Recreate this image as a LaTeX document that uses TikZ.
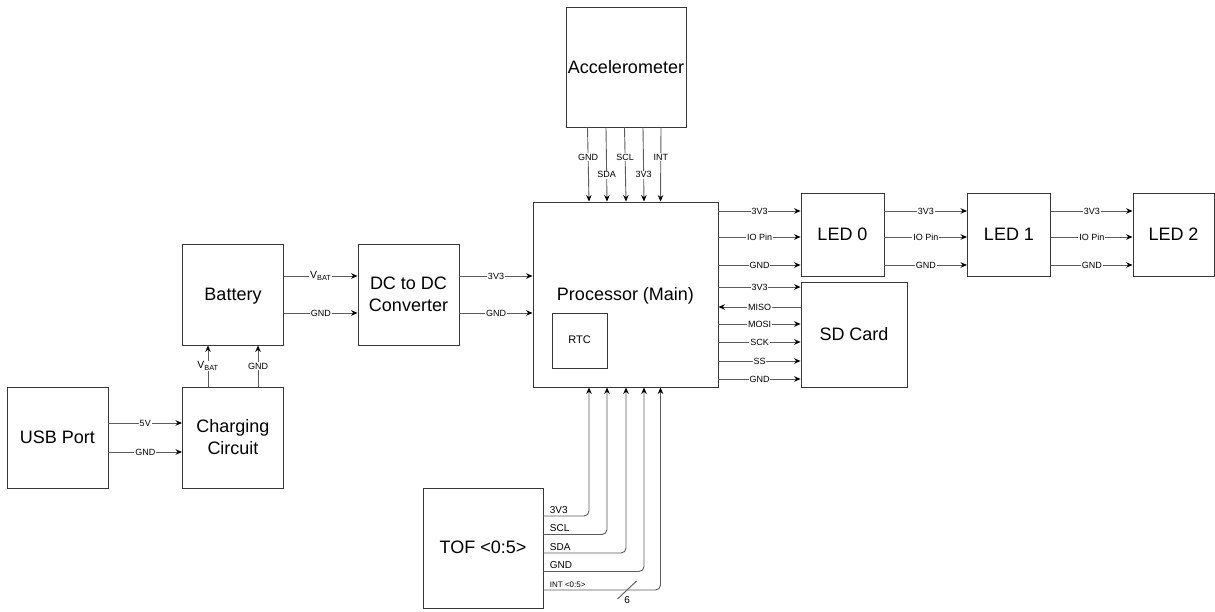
\documentclass[tikz,border=0pt]{standalone}
\usepackage{fontspec}
\setmainfont{Liberation Sans}
\setsansfont{Liberation Sans}
\usetikzlibrary{arrows.meta,calc,positioning}
\definecolor{ink}{HTML}{000000}
\definecolor{wire}{HTML}{5C5C5C}
\definecolor{edge}{HTML}{383838}
\definecolor{paper}{HTML}{FFFFFF}
\tikzset{
  font=\sffamily,
  line/.style={
    draw=wire,
    line width=0.9pt
  },
  wire/.style={
    line,
    -{Stealth[length=6.5pt,width=5.5pt,color=ink]}
  },
  block/.style={
    rectangle,
    draw=edge,
    line width=0.9pt,
    fill=paper,
    text=ink,
    align=center,
    inner sep=2pt,
    text depth=1pt,
    font=\sffamily\fontsize{18}{22}\selectfont
  },
  smallblock/.style={
    block,
    font=\sffamily\fontsize{11}{13}\selectfont
  },
  pinlabel/.style={
    font=\sffamily\fontsize{9}{10}\selectfont,
    fill=paper,
    text=ink,
    inner sep=0.8pt
  },
  powerlabel/.style={
    pinlabel,
    font=\sffamily\fontsize{10.5}{12}\selectfont
  },
  sidelabel/.style={
    font=\sffamily\fontsize{10}{12}\selectfont,
    text=ink,
    anchor=south west,
    inner sep=1pt,
    xshift=5pt,
    yshift=1pt
  }
}

\begin{document}
\begin{tikzpicture}[x=1pt, y=-1pt]
  \useasboundingbox (0,0) rectangle (1215,611);

  % blocks
  \node[block, minimum width=120pt, minimum height=120pt] (accel) at (626,67) {Accelerometer};
  \node[block, minimum width=185pt, minimum height=185pt] (proc) at (625.5,294.5) {Processor (Main)};
  \node[smallblock, minimum width=55pt, minimum height=55pt] (rtc) at (579.5,340.5) {RTC};
  \node[block, minimum width=101pt, minimum height=101pt] (bat) at (233,294.5) {Battery};
  \node[block, minimum width=101pt, minimum height=101pt] (dcdc) at (408.5,294.5) {DC to DC\\Converter};
  \node[block, minimum width=101pt, minimum height=101pt] (usb) at (57.5,437.5) {USB Port};
  \node[block, minimum width=101pt, minimum height=101pt] (charge) at (233,437.5) {Charging\\Circuit};
  \node[block, minimum width=83pt, minimum height=83pt] (led0) at (842.5,234.5) {LED 0};
  \node[block, minimum width=83pt, minimum height=83pt] (led1) at (1009,234.5) {LED 1};
  \node[block, minimum width=81pt, minimum height=83pt] (led2) at (1173.5,234.5) {LED 2};
  \node[block, minimum width=106pt, minimum height=105pt] (sd) at (854,334.5) {SD Card};
  \node[block, minimum width=120pt, minimum height=120pt] (tof) at (483,548) {TOF <0:5>};

  % power path
  \draw[wire] ($(usb.east)+(0,-14.5)$) -- node[pinlabel]{5V} ($(charge.west)+(0,-14.5)$);
  \draw[wire] ($(usb.east)+(0,14.5)$) -- node[pinlabel]{GND} ($(charge.west)+(0,14.5)$);
  \draw[wire] ($(charge.north)+(-25,0)$) -- node[powerlabel]{V\textsubscript{BAT}} ($(bat.south)+(-25,0)$);
  \draw[wire] ($(charge.north)+(25,0)$) -- node[pinlabel]{GND} ($(bat.south)+(25,0)$);
  \draw[wire] ($(bat.east)+(0,-18.5)$) -- node[powerlabel]{V\textsubscript{BAT}} ($(dcdc.west)+(0,-18.5)$);
  \draw[wire] ($(bat.east)+(0,18.5)$) -- node[pinlabel]{GND} ($(dcdc.west)+(0,18.5)$);
  \draw[wire] ($(dcdc.east)+(0,-18.5)$) -- node[pinlabel]{3V3} ($(proc.west |- dcdc.east)+(0,-18.5)$);
  \draw[wire] ($(dcdc.east)+(0,18.5)$) -- node[pinlabel]{GND} ($(proc.west |- dcdc.east)+(0,18.5)$);

  % accelerometer bus
  \foreach \xa/\xb/\pin/\where in {-38/-36.5/GND/0.4, -19.5/-18.5/SDA/0.64, -1/0.5/SCL/0.4, 17.5/18.5/3V3/0.64, 35.5/35/INT/0.4}
    \draw[wire] ($(proc.north |- accel.south)+(\xa,0)$) -- node[pinlabel, pos=\where]{\pin} ($(proc.north)+(\xb,0)$);

  % LED chain
  \foreach \src/\dst in {proc/led0, led0/led1, led1/led2} {
    \draw[wire] ($(\src.east |- \dst.west)+(0,-23.5)$) -- node[pinlabel]{3V3} ($(\dst.west)+(0,-23.5)$);
    \draw[wire] ($(\src.east |- \dst.west)+(0,2.5)$) -- node[pinlabel]{IO Pin} ($(\dst.west)+(0,2.5)$);
    \draw[wire] ($(\src.east |- \dst.west)+(0,30.5)$) -- node[pinlabel]{GND} ($(\dst.west)+(0,30.5)$);
  }

  % SD card (SPI)
  \foreach \dy/\pin in {-47.5/3V3, -10.5/MOSI, 7.5/SCK, 26.5/SS, 44.5/GND}
    \draw[wire] ($(proc.east |- sd.west)+(0,\dy)$) -- node[pinlabel]{\pin} ($(sd.west)+(0,\dy)$);
  \draw[wire] ($(sd.west)+(0,-27.5)$) -- node[pinlabel]{MISO} ($(proc.east |- sd.west)+(0,-27.5)$);

  % TOF sensors
  \foreach \dy/\dx/\pin in {-32/-36.5/3V3, -13.5/-18.5/SCL, 5/0.5/SDA, 23.5/18.5/GND}
    \draw[wire, rounded corners=5pt] ($(tof.east)+(0,\dy)$) node[sidelabel]{\pin} -| ($(proc.south)+(\dx,0)$);
  \draw[wire, rounded corners=5pt] ($(tof.east)+(0,42)$) node[sidelabel, font=\sffamily\fontsize{8}{10}\selectfont]{INT <0:5>}
    -| coordinate[pos=0.357] (bus) ($(proc.south)+(35,0)$);
  \draw[line] ($(bus)+(-9.5,9)$) -- ($(bus)+(9.5,-9)$);
  \node[pinlabel, fill=none, font=\sffamily\fontsize{10}{12}\selectfont] (buswidth) at ($(bus)+(0,10.5)$) {6};
\end{tikzpicture}
\end{document}
